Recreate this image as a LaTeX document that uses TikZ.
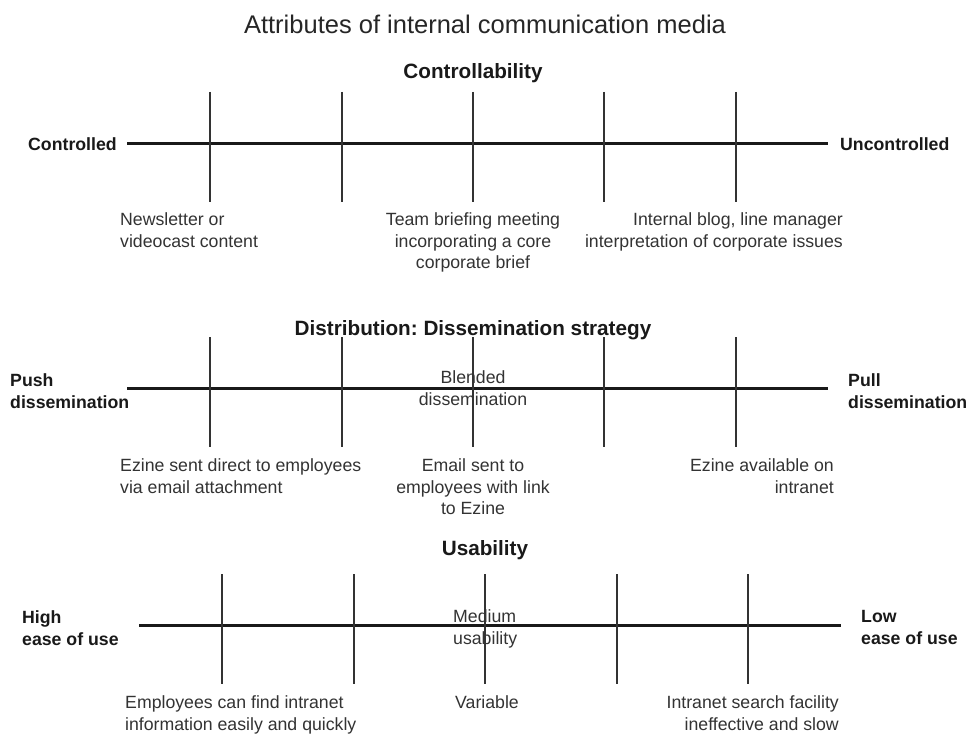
\documentclass[tikz,border=0pt]{standalone}
\usepackage{fontspec}
\setmainfont{Liberation Sans}
\usepackage{tikz}
\frenchspacing

\begin{document}
\begin{tikzpicture}[x=1pt, y=-1pt]
\tikzstyle{axisline}=[line width=3pt, black!90]
\tikzstyle{tickline}=[line width=1.4pt, black!80]
\tikzstyle{txt}=[inner sep=0pt, text=black!80, font=\fontsize{17.7}{21.5}\selectfont]
\tikzstyle{side}=[inner sep=0pt, text=black!90, font=\bfseries\fontsize{17.7}{21.5}\selectfont, align=left, anchor=north west]
\tikzstyle{heading}=[inner sep=0pt, anchor=north, text=black!90, font=\bfseries\fontsize{20.7}{25}\selectfont]

\useasboundingbox[fill=white] (0,0) rectangle (971,733);

% title
\node[inner sep=0pt, anchor=north, text=black!85, font=\fontsize{25.5}{30}\selectfont] at (485,14.7) (title) {Attributes of internal communication media};

% controllability
\node[heading] at (473,63.5) (ctrlhead) {Controllability};
\node[side] at (28,137.5) (ctrlleft) {Controlled};
\node[side] at (840,137.5) (ctrlright) {Uncontrolled};
\node[txt, align=left, anchor=north west] at (120,212.5) (ctrlA) {Newsletter or\\videocast content};
\node[txt, align=center, anchor=north] at (473,212.5) (ctrlB) {Team briefing meeting\\incorporating a core\\corporate brief};
\node[txt, align=right, anchor=north east] at (843,212.5) (ctrlC) {Internal blog, line manager\\interpretation of corporate issues};
\coordinate (ctrlstart) at (127,143);
\coordinate (ctrlend) at (828,143);
\path (ctrlstart) edge [axisline] (ctrlend);
\foreach \x [count=\i] in {210,342,473,604,736} {
  \coordinate (ctrltop\i) at (\x,92);
  \coordinate (ctrlbot\i) at (\x,202);
  \path (ctrltop\i) edge [tickline] (ctrlbot\i);
}

% distribution
\node[heading] at (473,320.5) (disthead) {Distribution: Dissemination strategy};
\node[side] at (10,373.5) (distleft) {Push\\dissemination};
\node[side] at (848,373.5) (distright) {Pull\\dissemination};
\node[txt, align=center, anchor=north] at (473,370.5) (distmid) {Blended\\dissemination};
\node[txt, align=left, anchor=north west] at (120,458.5) (distA) {Ezine sent direct to employees\\via email attachment};
\node[txt, align=center, anchor=north] at (473,458.5) (distB) {Email sent to\\employees with link\\to Ezine};
\node[txt, align=right, anchor=north east] at (834,458.5) (distC) {Ezine available on\\intranet};
\coordinate (diststart) at (127,388);
\coordinate (distend) at (828,388);
\path (diststart) edge [axisline] (distend);
\foreach \x [count=\i] in {210,342,473,604,736} {
  \coordinate (disttop\i) at (\x,337);
  \coordinate (distbot\i) at (\x,447);
  \path (disttop\i) edge [tickline] (distbot\i);
}

% usability
\node[heading] at (485,540.5) (usehead) {Usability};
\node[side] at (22,610.5) (useleft) {High\\ease of use};
\node[side] at (861,610.5) (useright) {Low\\ease of use};
\node[txt, align=left, anchor=north west] at (453,609.5) (usemid) {Medium\\usability};
\node[txt, align=left, anchor=north west] at (125,695.5) (useA) {Employees can find intranet\\information easily and quickly};
\node[txt, align=left, anchor=north west] at (455,695.5) (useB) {Variable};
\node[txt, align=right, anchor=north east] at (839,695.5) (useC) {Intranet search facility\\ineffective and slow};
\coordinate (usestart) at (139,625);
\coordinate (useend) at (841,625);
\path (usestart) edge [axisline] (useend);
\foreach \x [count=\i] in {222,354,485,617,748} {
  \coordinate (usetop\i) at (\x,574);
  \coordinate (usebot\i) at (\x,684);
  \path (usetop\i) edge [tickline] (usebot\i);
}
\end{tikzpicture}
\end{document}
